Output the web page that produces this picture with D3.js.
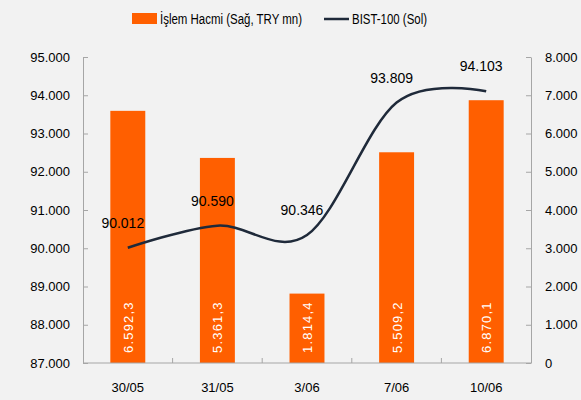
<!DOCTYPE html>
<html>
<head>
<meta charset="utf-8">
<script src="https://cdn.jsdelivr.net/npm/d3@7"></script>
<style>
  body { margin: 0; background: #f2f2f2; }
  svg { display: block; font-family: "Liberation Sans", Arial, sans-serif; }
  .axis path, .axis line { stroke: #a6a6a6; }
  .axis text { fill: #000; font-size: 13px; font-family: "Liberation Sans", Arial, sans-serif; }
</style>
</head>
<body>
<script>
const dates = ["30/05", "31/05", "3/06", "7/06", "10/06"];
const volume = [6592.3, 5361.3, 1814.4, 5509.2, 6870.1];
const bist = [90012, 90590, 90346, 93809, 94103];
const leftTicks = [87000, 88000, 89000, 90000, 91000, 92000, 93000, 94000, 95000];
const rightTicks = [0, 1000, 2000, 3000, 4000, 5000, 6000, 7000, 8000];

const W = 581, H = 400;
const margin = { top: 57, right: 50, bottom: 37, left: 83 },
      width = W - margin.left - margin.right,
      height = H - margin.top - margin.bottom;

const tr = d3.formatLocale({ decimal: ",", thousands: ".", grouping: [3], currency: ["", ""] });
const fmtInt = tr.format(",");
const fmtDec = tr.format(",.1f");

const x = d3.scaleBand()
    .domain(dates)
    .range([0, width])
    .paddingInner(0.61)
    .paddingOuter(0.305);

const yL = d3.scaleLinear().domain([87000, 95000]).range([height, 0]);
const yR = d3.scaleLinear().domain([0, 8000]).range([height, 0]);

const svg = d3.select("body").append("svg")
    .attr("width", W)
    .attr("height", H);

const g = svg.append("g")
    .attr("transform", "translate(" + margin.left + "," + margin.top + ")");

// bars
g.selectAll("rect.bar")
  .data(dates)
  .enter().append("rect")
    .attr("class", "bar")
    .attr("x", d => x(d))
    .attr("y", (d, i) => yR(volume[i]))
    .attr("width", x.bandwidth())
    .attr("height", (d, i) => height - yR(volume[i]))
    .attr("fill", "#ff5f00");

// bar labels (rotated, white)
g.selectAll("text.blab")
  .data(dates)
  .enter().append("text")
    .attr("class", "blab")
    .attr("transform", d => `translate(${x(d) + x.bandwidth() / 2 + 5},${height - 10}) rotate(-90)`)
    .attr("fill", "#fff")
    .attr("font-size", 13)
    .attr("letter-spacing", 1.2)
    .text((d, i) => fmtDec(volume[i]));

// axes
const step = x.step(), gap = step * x.paddingInner() / 2;

const xAxis = g.append("g")
    .attr("class", "axis")
    .attr("transform", "translate(0," + height + ")")
    .call(d3.axisBottom(x).tickSize(0).tickPadding(20));
xAxis.select(".domain").attr("d", `M0,0H${width}`);
xAxis.selectAll(".bound")
  .data(dates.slice(1))
  .enter().append("line")
    .attr("class", "bound")
    .attr("x1", d => x(d) - gap).attr("x2", d => x(d) - gap)
    .attr("y1", 0).attr("y2", -5);

g.append("g")
    .attr("class", "axis")
    .call(d3.axisLeft(yL).tickValues(leftTicks).tickFormat(fmtInt)
      .tickSize(-5).tickSizeOuter(0).tickPadding(13));

g.append("g")
    .attr("class", "axis")
    .attr("transform", "translate(" + width + ",0)")
    .call(d3.axisRight(yR).tickValues(rightTicks).tickFormat(fmtInt)
      .tickSize(-5).tickSizeOuter(0).tickPadding(14));

// line
const line = d3.line()
    .x((d, i) => x(dates[i]) + x.bandwidth() / 2)
    .y(d => yL(d))
    .curve(d3.curveCardinal.tension(0));

g.append("path")
    .datum(bist)
    .attr("fill", "none")
    .attr("stroke", "#1f2a3a")
    .attr("stroke-width", 2.5)
    .attr("d", line);

g.selectAll("text.llab")
  .data(bist)
  .enter().append("text")
    .attr("class", "llab")
    .attr("x", (d, i) => x(dates[i]) + x.bandwidth() / 2 - 5)
    .attr("y", d => yL(d) - 20)
    .attr("text-anchor", "middle")
    .attr("font-size", 14)
    .text(d => fmtInt(d));

// legend
const lg = svg.append("g").attr("font-size", 14);
lg.append("rect").attr("x", 132).attr("y", 13).attr("width", 25).attr("height", 11).attr("fill", "#ff5f00");
lg.append("text").attr("x", 160).attr("y", 24)
    .attr("textLength", 142).attr("lengthAdjust", "spacingAndGlyphs")
    .text("İşlem Hacmi (Sağ, TRY mn)");
lg.append("line").attr("x1", 324).attr("x2", 349).attr("y1", 19).attr("y2", 19)
    .attr("stroke", "#1f2a3a").attr("stroke-width", 2.5);
lg.append("text").attr("x", 352).attr("y", 24)
    .attr("textLength", 75).attr("lengthAdjust", "spacingAndGlyphs")
    .text("BIST-100 (Sol)");
</script>
</body>
</html>
